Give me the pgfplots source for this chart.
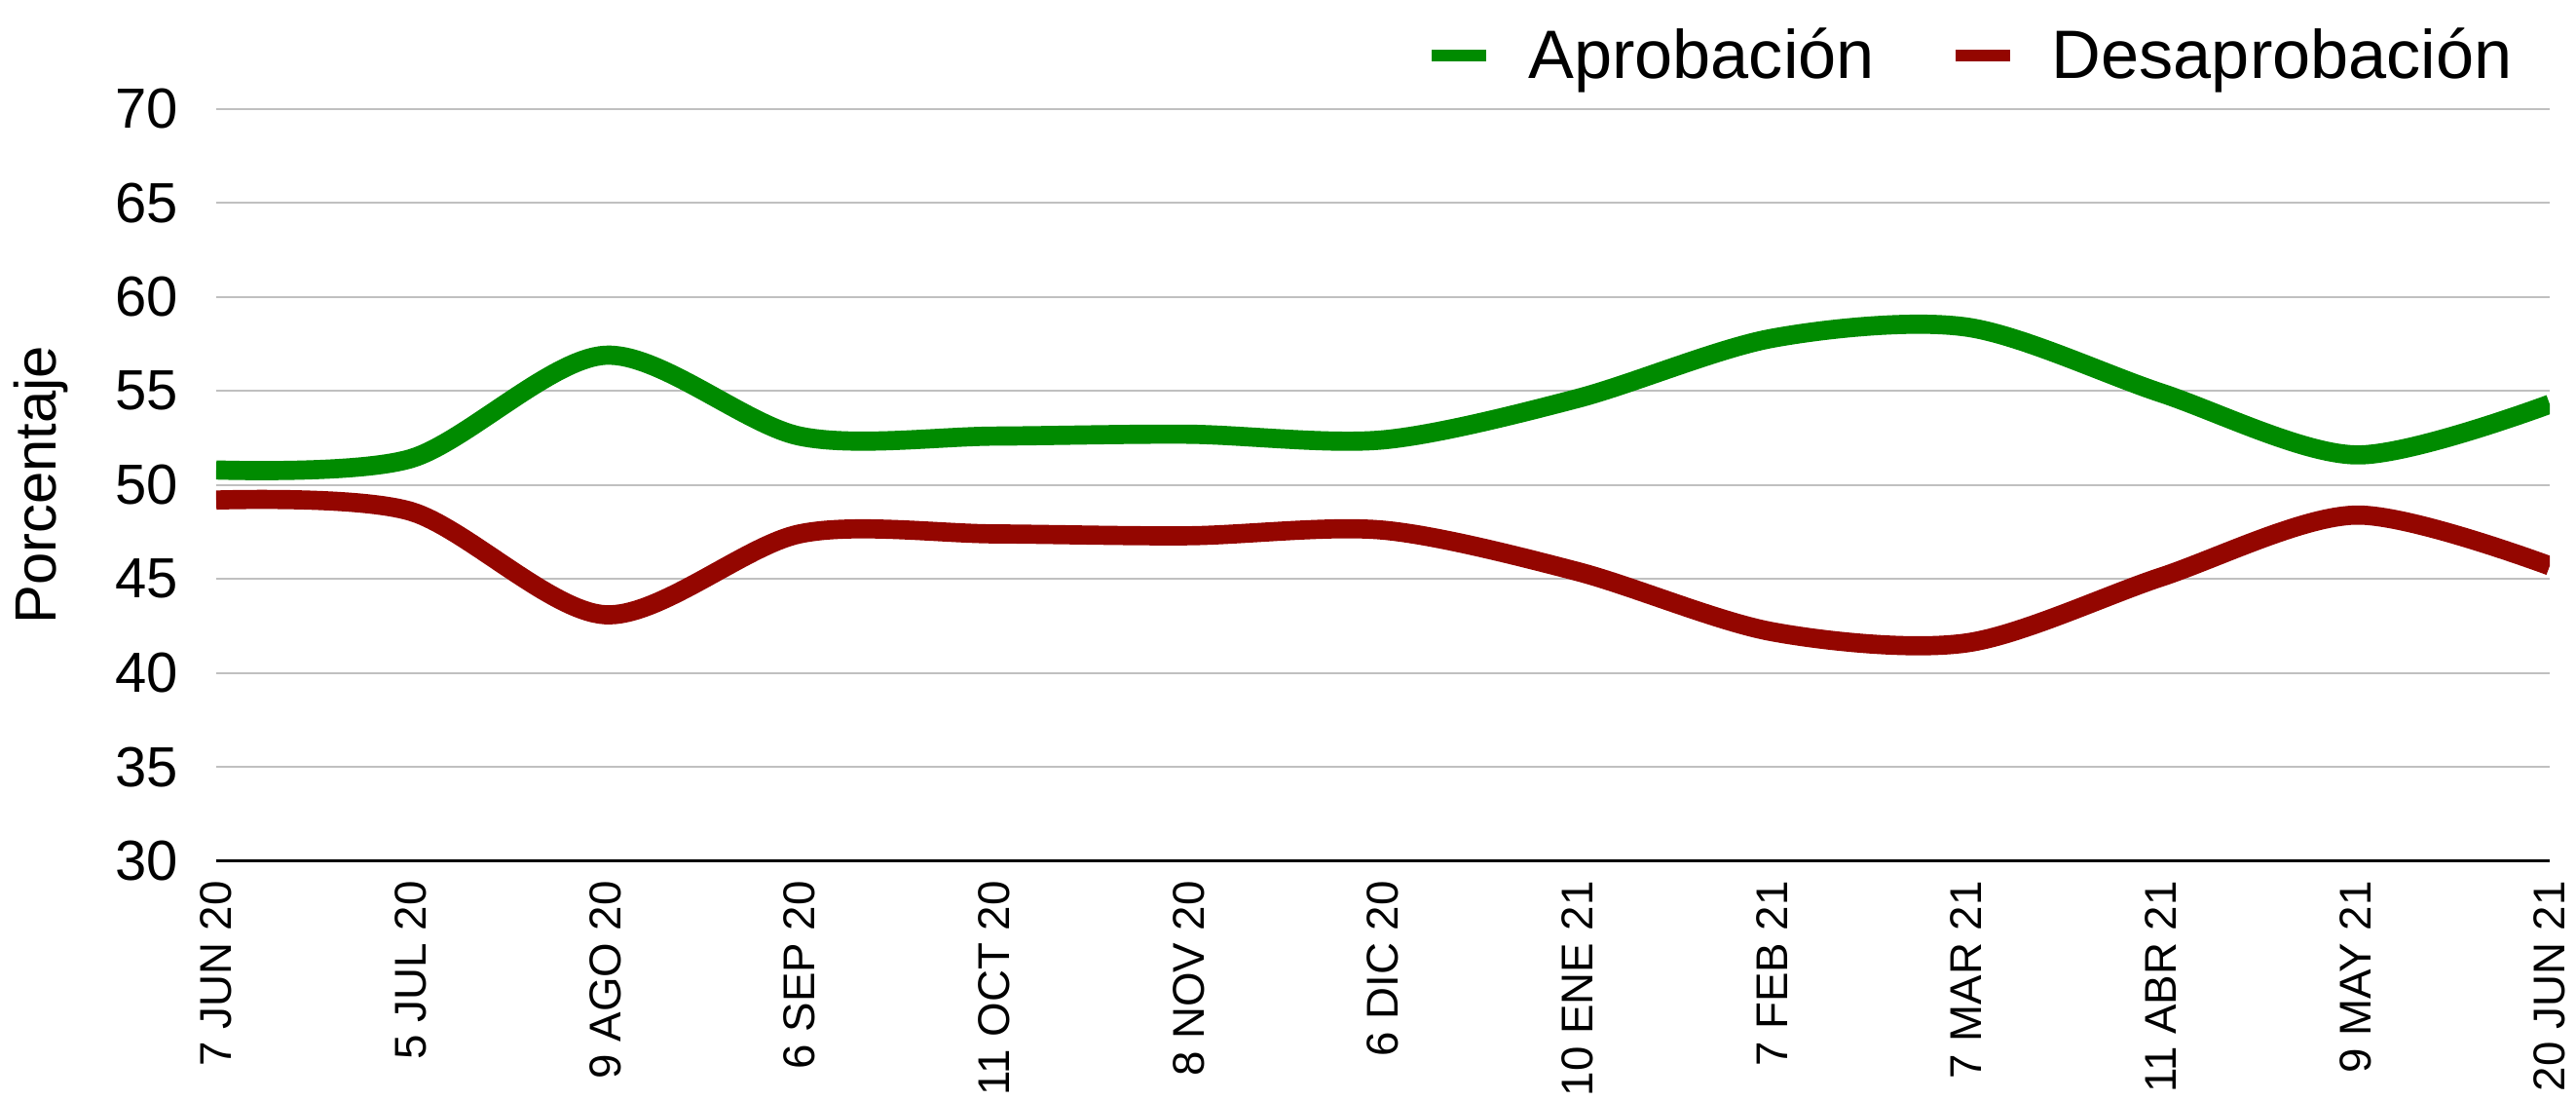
\documentclass[border=0pt]{standalone}
\usepackage{fontspec}
\setmainfont{Liberation Sans}
\usepackage{pgfplots}
\pgfplotsset{compat=1.18}

\definecolor{aprob}{RGB}{0,139,0}
\definecolor{desap}{RGB}{148,6,0}
\definecolor{gridgray}{RGB}{192,192,192}

\begin{document}
\begin{tikzpicture}
\begin{axis}[
  scale only axis, width=23.96cm, height=7.72cm,
  xmin=0, xmax=12, ymin=30, ymax=70,
  ytick={30,35,...,70},
  xtick={0,...,12},
  xticklabels={7 JUN 20,5 JUL 20,9 AGO 20,6 SEP 20,11 OCT 20,8 NOV 20,6 DIC 20,10 ENE 21,7 FEB 21,7 MAR 21,11 ABR 21,9 MAY 21,20 JUN 21},
  axis x line=bottom, axis y line=left,
  x axis line style={-, black, line width=0.9pt},
  y axis line style={draw=none},
  major tick length=0pt,
  ymajorgrids, grid style={gridgray, line width=0.6pt},
  /pgf/number format/assume math mode=true,
  yticklabel style={font=\fontsize{16.5}{19}\selectfont, xshift=-0.27cm},
  xticklabel style={font=\fontsize{13}{16}\selectfont, yshift=-0.08cm, rotate=90, anchor=east},
  ylabel={Porcentaje},
  ylabel style={font=\fontsize{17}{20}\selectfont, at={(axis description cs:0,0.5)}, anchor=center, yshift=1.8cm},
  legend columns=2,
  legend style={draw=none, fill=none, font=\fontsize{20}{24}\selectfont,
    at={(1,1)}, anchor=east, xshift=-0.2cm, yshift=0.55cm,
    /tikz/every odd column/.append style={column sep=0.3cm},
    /tikz/every even column/.append style={column sep=0.7cm}},
  legend image code/.code={\draw[#1, line width=3.4pt] (0cm,0cm) -- (0.56cm,0cm);},
  every axis plot/.append style={line width=5.6pt, line join=round, smooth, tension=0.5},
]
\addplot[color=aprob] coordinates {
  (0,50.8) (1,51.4) (2,56.9) (3,52.6) (4,52.6) (5,52.7) (6,52.4)
  (7,54.6) (8,57.8) (9,58.4) (10,54.9) (11,51.6) (12,54.3)};
\addplot[color=desap] coordinates {
  (0,49.2) (1,48.6) (2,43.1) (3,47.4) (4,47.4) (5,47.3) (6,47.6)
  (7,45.4) (8,42.2) (9,41.6) (10,45.1) (11,48.4) (12,45.7)};
\legend{Aprobación, Desaprobación}
\coordinate (bl) at (rel axis cs:0,0);
\coordinate (tr) at (rel axis cs:1,1);
\end{axis}
\pgfresetboundingbox
\useasboundingbox ([xshift=-2.22cm,yshift=-2.45cm]bl) rectangle ([xshift=0.27cm,yshift=1.118cm]tr);
\end{tikzpicture}
\end{document}
